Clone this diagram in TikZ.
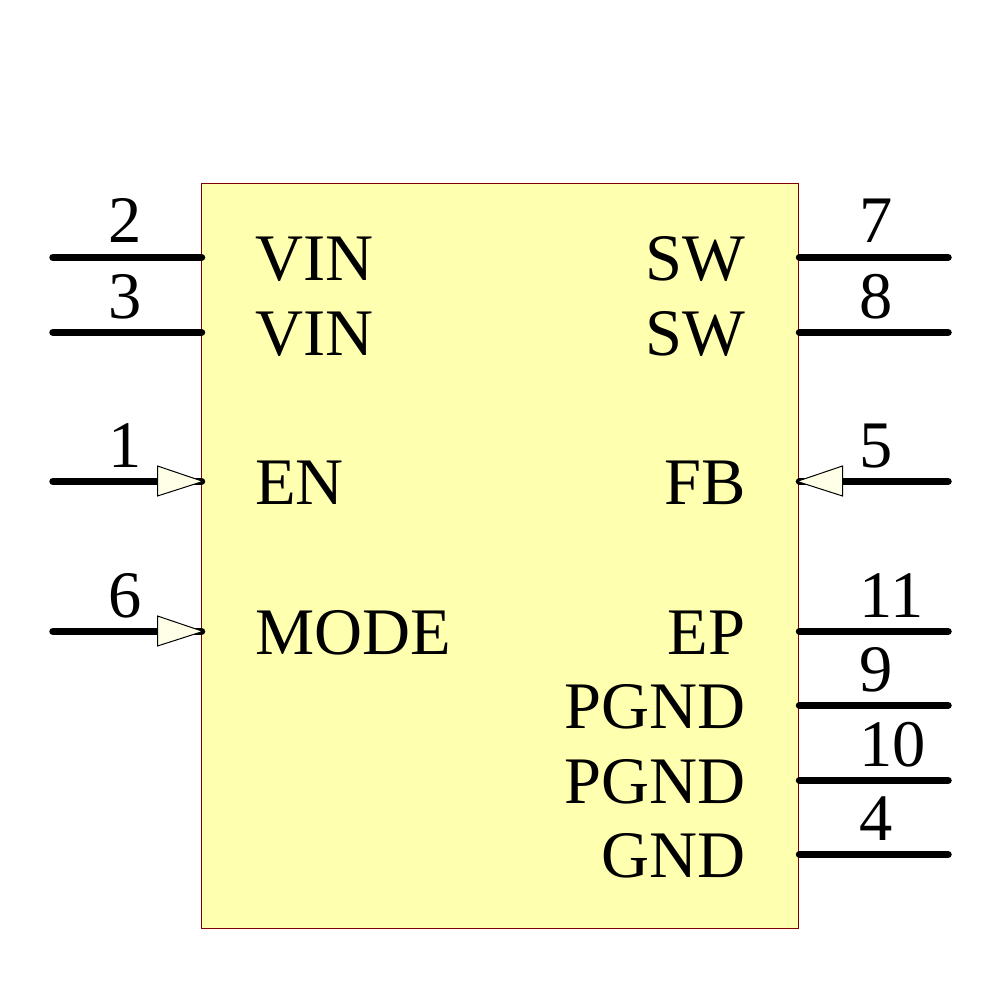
\documentclass[tikz,border=0pt]{standalone}
\usepackage{fontspec}
\setmainfont{Liberation Serif}
\definecolor{bodyfill}{HTML}{FFFFB0}
\definecolor{bodyline}{HTML}{800000}
\definecolor{tipfill}{HTML}{FFFFE8}
\tikzset{
  x=1pt,y=-1pt,
  chip/.style={draw=bodyline,fill=bodyfill,line width=1pt},
  pinwire/.style={draw=black,line width=7.5pt,line cap=round},
  pintip/.style={draw=black,fill=tipfill,line width=1pt,line join=miter},
  txt/.style={font=\fontsize{66.5pt}{66.5pt}\selectfont,inner sep=0pt,outer sep=0pt,text=black},
  lname/.style={txt,anchor=base west},
  rname/.style={txt,anchor=base east},
  pnum/.style={txt,anchor=base west},
}
\begin{document}
\begin{tikzpicture}
\useasboundingbox (0,0) rectangle (1000,1000);
\path[chip] (201.5,183.5) rectangle (798.5,928.5);
% left pins
\foreach \n/\y/\t in {2/257/VIN,3/332/VIN,1/481/EN,6/631/MODE}{
  \coordinate (lo\n) at (53,\y+0.4);
  \coordinate (li\n) at (201.5,\y+0.4);
  \draw[pinwire] (lo\n) -- (li\n);
  \node[pnum] (lnum\n) at (108,\y-14) {\n};
  \node[lname] (lname\n) at (255,\y+23) {\t};
}
% right pins
\foreach \n/\y/\t in {7/257/SW,8/332/SW,5/481/FB,11/631/EP,9/705/PGND,10/780/PGND,4/854/GND}{
  \coordinate (ro\n) at (948,\y+0.4);
  \coordinate (ri\n) at (799.5,\y+0.4);
  \draw[pinwire] (ro\n) -- (ri\n);
  \node[pnum] (rnum\n) at (859.5,\y-14) {\n};
  \node[rname] (rname\n) at (745.5,\y+23) {\t};
}
% input markers
\draw[pintip] (157.5,466) -- (203,481.4) -- (157.5,496) -- cycle;
\draw[pintip] (157.5,616) -- (203,631.4) -- (157.5,646) -- cycle;
\draw[pintip] (842.5,466) -- (797,481.4) -- (842.5,496) -- cycle;
\end{tikzpicture}
\end{document}
